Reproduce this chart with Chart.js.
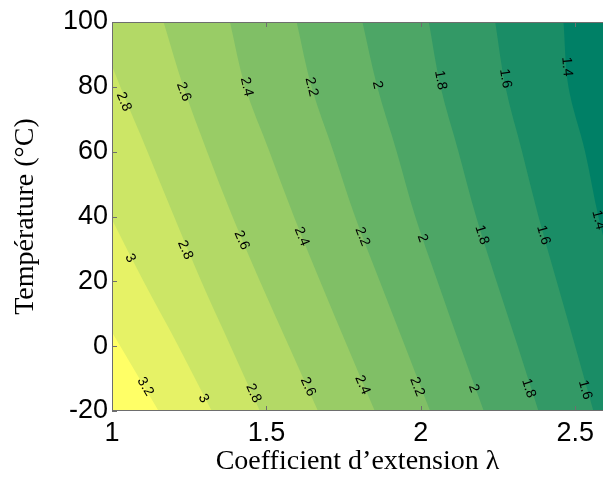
<!DOCTYPE html>
<html>
<head>
<meta charset="utf-8">
<script src="https://cdn.jsdelivr.net/npm/chart.js@4.4.1/dist/chart.umd.min.js"></script>
<style>
  html, body { margin: 0; padding: 0; background: #fff; overflow: hidden; }
</style>
</head>
<body>
<canvas id="grafico" width="603" height="482"></canvas>
<script>
// temperature rows (top to bottom) at which every contour line was read
const temperature = [100, 80, 60, 40, 20, 0, -20];

// coefficient d'extension of each contour line at those temperatures
// (3.2, 3.0 go out on the left, 1.4 out on the right)
const contour14 = [2.462, 2.478, 2.532, 2.575, 2.629, 2.693, 2.758];
const contour16 = [2.241, 2.274, 2.328, 2.381, 2.440, 2.500, 2.559];
const contour18 = [2.026, 2.064, 2.122, 2.179, 2.245, 2.314, 2.381];
const contour20 = [1.811, 1.859, 1.922, 1.982, 2.054, 2.128, 2.204];
const contour22 = [1.598, 1.646, 1.717, 1.787, 1.867, 1.949, 2.030];
const contour24 = [1.382, 1.431, 1.510, 1.589, 1.674, 1.762, 1.851];
const contour26 = [1.167, 1.231, 1.308, 1.390, 1.479, 1.573, 1.667];
const contour28 = [0.946, 1.027, 1.115, 1.201, 1.289, 1.384, 1.479];
const contour30 = [0.700, 0.790, 0.890, 0.995, 1.102, 1.215, 1.323];
const contour32 = [0.480, 0.570, 0.670, 0.780, 0.900, 1.027, 1.151];

const levels = [1.4, 1.6, 1.8, 2.0, 2.2, 2.4, 2.6, 2.8, 3.0, 3.2];
const contours = [contour14, contour16, contour18, contour20, contour22,
                  contour24, contour26, contour28, contour30, contour32];

// inline labels of the contours
const labelLevel = [2.8, 2.6, 2.4, 2.2, 2.0, 1.8, 1.6, 1.4,
                    3.0, 2.8, 2.6, 2.4, 2.2, 2.0, 1.8, 1.6, 1.4,
                    3.2, 3.0, 2.8, 2.6, 2.4, 2.2, 2.0, 1.8, 1.6];
const labelX = [1.038, 1.232, 1.436, 1.646, 1.859, 2.064, 2.274, 2.473,
                1.059, 1.237, 1.420, 1.614, 1.811, 2.005, 2.198, 2.397, 2.575,
                1.108, 1.296, 1.458, 1.635, 1.811, 1.988, 2.171, 2.349, 2.532];
const labelY = [75.4, 78.5, 80.0, 80.0, 80.6, 82.1, 82.6, 86.2,
                27.1, 29.7, 32.7, 33.8, 33.8, 33.3, 34.3, 34.3, 38.9,
                -12.5, -16.1, -14.5, -12.5, -12.0, -12.5, -13.0, -13.0, -13.5];

const xTicks = [1, 1.5, 2, 2.5];
const yTicks = [-20, 0, 20, 40, 60, 80, 100];

// colormap "summer": colour of the band on the right of each contour
const coloriBande = ['#008066', '#1a8d66', '#339966', '#4da666', '#66b366',
                     '#80bf66', '#99cc66', '#b3d966', '#cce666', '#e6f266'];
const coloreMassimo = '#ffff66';   // above 3.2
const coloreAssi = '#6e6e6e';

const fontSans = '"Liberation Sans", Arial, sans-serif';
const fontSerif = '"Liberation Serif", "Times New Roman", serif';

// background of the plot (band above the last level) + frame with inner ticks
const cornice = {
    id: 'cornice',
    beforeDatasetsDraw(chart) {
        const a = chart.chartArea;
        const ctx = chart.ctx;
        ctx.save();
        ctx.fillStyle = coloreMassimo;
        ctx.fillRect(a.left, a.top, a.right - a.left, a.bottom - a.top);
        ctx.restore();
    },
    afterDraw(chart) {
        const a = chart.chartArea;
        const ctx = chart.ctx;
        const xs = chart.scales.x;
        const ys = chart.scales.y;
        ctx.save();
        ctx.strokeStyle = coloreAssi;
        ctx.lineWidth = 1;
        ctx.beginPath();
        ctx.moveTo(a.right, a.top + 0.5);
        ctx.lineTo(a.left + 0.5, a.top + 0.5);
        ctx.lineTo(a.left + 0.5, a.bottom - 0.5);
        ctx.lineTo(a.right, a.bottom - 0.5);
        for (const v of xTicks) {
            const px = Math.round(xs.getPixelForValue(v)) + 0.5;
            ctx.moveTo(px, a.bottom);
            ctx.lineTo(px, a.bottom - 5);
            ctx.moveTo(px, a.top);
            ctx.lineTo(px, a.top + 5);
        }
        for (const v of yTicks) {
            const py = Math.round(ys.getPixelForValue(v)) + 0.5;
            ctx.moveTo(a.left, py);
            ctx.lineTo(a.left + 5, py);
        }
        ctx.stroke();
        ctx.restore();
    }
};

// rotated labels sitting on the contour lines
const etichette = {
    id: 'etichette',
    afterDatasetsDraw(chart) {
        const a = chart.chartArea;
        const ctx = chart.ctx;
        const xs = chart.scales.x;
        const ys = chart.scales.y;
        ctx.save();
        ctx.beginPath();
        ctx.rect(a.left, a.top, a.right - a.left, a.bottom - a.top);
        ctx.clip();
        ctx.font = '14px ' + fontSans;
        ctx.fillStyle = '#000';
        ctx.textAlign = 'center';
        ctx.textBaseline = 'middle';
        for (let i = 0; i < labelLevel.length; i++) {
            const c = contours[levels.indexOf(labelLevel[i])];
            let k = 0;
            while (k < temperature.length - 2 && temperature[k + 1] > labelY[i]) k++;
            const dx = xs.getPixelForValue(c[k + 1]) - xs.getPixelForValue(c[k]);
            const dy = ys.getPixelForValue(temperature[k + 1]) - ys.getPixelForValue(temperature[k]);
            ctx.save();
            ctx.translate(xs.getPixelForValue(labelX[i]), ys.getPixelForValue(labelY[i]));
            ctx.rotate(Math.atan2(dy, dx));
            ctx.fillText(String(labelLevel[i]), 0, 0);
            ctx.restore();
        }
        ctx.restore();
    }
};

const ctxGrafico = document.getElementById('grafico').getContext('2d');
new Chart(ctxGrafico, {
    type: 'line',
    data: {
        datasets: levels.map((lv, i) => ({
            label: String(lv),
            data: temperature.map((t, j) => ({ x: contours[i][j], y: t })),
            fill: { value: 3 },          // fill to the right, past the axis end
            backgroundColor: coloriBande[i],
            borderColor: 'rgba(0,0,0,0)',
            borderWidth: 0,
            pointRadius: 0,
            cubicInterpolationMode: 'monotone',
            capBezierPoints: false
        }))
    },
    options: {
        indexAxis: 'y',
        responsive: false,
        animation: false,
        events: [],
        layout: { padding: { top: 22, left: 0, right: 0, bottom: 0 } },
        plugins: {
            legend: { display: false },
            tooltip: { enabled: false }
        },
        scales: {
            x: {
                type: 'linear',
                min: 1,
                max: 2.59,
                afterBuildTicks: (scale) => { scale.ticks = xTicks.map(v => ({ value: v })); },
                afterFit: (scale) => { scale.height = 71; },
                grid: { display: false, drawTicks: false },
                border: { display: false },
                ticks: {
                    padding: 6,
                    color: '#000',
                    font: { family: fontSans, size: 27 },
                    maxRotation: 0,
                    callback: (v) => String(v)
                },
                title: {
                    display: true,
                    text: 'Coefficient d\u2019extension \u03bb',
                    color: '#000',
                    font: { family: fontSerif, size: 28 },
                    padding: { top: 0, bottom: 4 }
                }
            },
            y: {
                type: 'linear',
                min: -20,
                max: 100,
                afterBuildTicks: (scale) => { scale.ticks = yTicks.map(v => ({ value: v })); },
                afterFit: (scale) => { scale.width = 112; },
                grid: { display: false, drawTicks: false },
                border: { display: false },
                ticks: {
                    padding: 4,
                    color: '#000',
                    font: { family: fontSans, size: 27 },
                    callback: (v) => String(v)
                },
                title: {
                    display: true,
                    text: 'Température (°C)',
                    color: '#000',
                    font: { family: fontSerif, size: 28 },
                    padding: { top: 9, bottom: 0 }
                }
            }
        }
    },
    plugins: [cornice, etichette]
});
</script>
</body>
</html>
